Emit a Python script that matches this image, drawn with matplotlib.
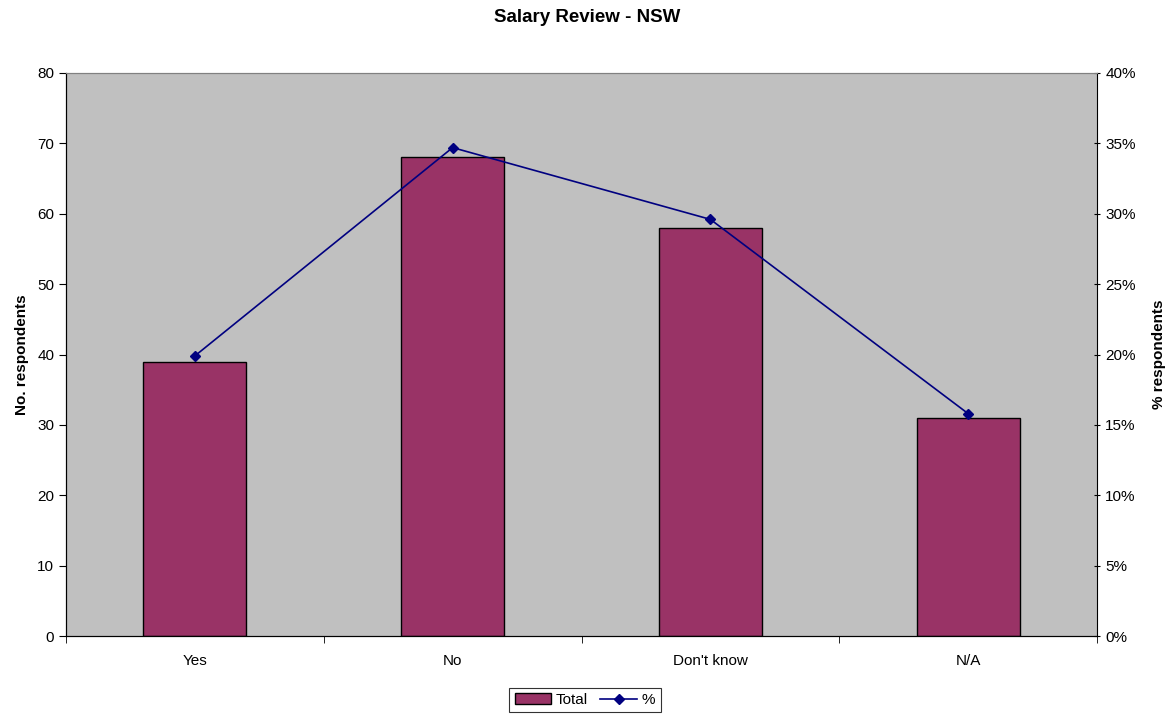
import matplotlib.pyplot as plt
from matplotlib.ticker import FuncFormatter, FixedLocator

plt.rcParams['font.family'] = ['Liberation Sans', 'DejaVu Sans']

categories = ['Yes', 'No', "Don't know", 'N/A']
totals = [39, 68, 58, 31]
pct = [19.9, 34.7, 29.6, 15.8]

fig = plt.figure(figsize=(11.75, 7.17), dpi=100)
ax = fig.add_axes([66/1175, 81/717, (1097-66)/1175, (636-73)/717])
ax.set_facecolor('#C0C0C0')
x = list(range(len(categories)))
bars = ax.bar(x, totals, width=0.4, color='#993366', edgecolor='black', linewidth=1, label='Total', zorder=2)
ax.set_xlim(-0.5, 3.5)
ax.set_ylim(0, 80)
ax.set_yticks(range(0, 81, 10))
ax.set_xticks(x)
ax.set_xticklabels(categories, fontsize=11)
ax.tick_params(axis='x', which='major', length=0, pad=13)
ax.xaxis.set_minor_locator(FixedLocator([-0.5, 0.5, 1.5, 2.5, 3.5]))
ax.tick_params(axis='x', which='minor', length=5, direction='out')
ax.tick_params(axis='y', length=5, direction='out', labelsize=11)
ax.set_ylabel('No. respondents', fontsize=11, fontweight='bold', labelpad=6)
ax.spines['top'].set_color('#808080')
ax.spines['right'].set_visible(False)

ax2 = ax.twinx()
line, = ax2.plot(x, pct, color='#000080', marker='D', markersize=5, linewidth=1.2, label='%')
ax2.set_ylim(0, 40)
ax2.set_yticks(range(0, 41, 5))
ax2.yaxis.set_major_formatter(FuncFormatter(lambda v, p: f'{v:.0f}%'))
ax2.tick_params(axis='y', length=5, direction='inout', labelsize=11)
ax2.set_ylabel('% respondents', fontsize=11, fontweight='bold', labelpad=12)
ax2.spines['top'].set_color('#808080')

fig.text(0.5, 1 - 17/717, 'Salary Review - NSW', fontsize=13.5, fontweight='bold', ha='center', va='center')
leg = fig.legend([bars, line], ['Total', '%'], loc='center', bbox_to_anchor=(585/1175, 1-700/717),
                 ncol=2, fontsize=11, frameon=True, fancybox=False, edgecolor='black',
                 handlelength=2.4, handletextpad=0.3, columnspacing=0.8, borderpad=0.35)
leg.get_frame().set_linewidth(0.8)

fig.savefig('out.png', dpi=100)
